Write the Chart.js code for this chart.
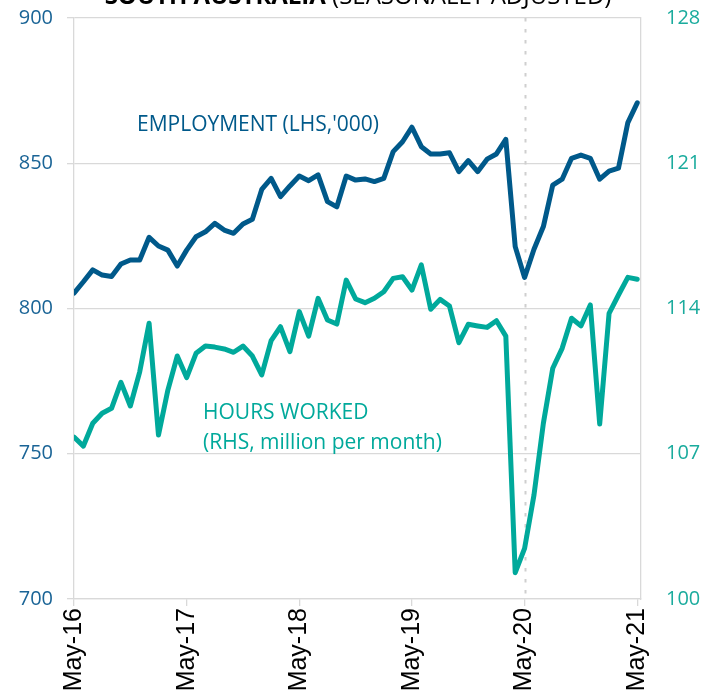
<!DOCTYPE html>
<html>
<head>
<meta charset="utf-8">
<script src="https://cdn.jsdelivr.net/npm/chart.js@4.4.1/dist/chart.umd.min.js"></script>
<style>
  html, body { margin: 0; padding: 0; background: #ffffff; }
  #wrap { position: relative; width: 716px; height: 695px; }
</style>
</head>
<body>
<div id="wrap"><canvas id="c" width="716" height="695"></canvas></div>
<script>
// ---- Data (monthly, May-16 .. May-21; x = month index from May-16) ----
const employment = [
  805.3, 809.2, 813.3, 811.5, 811.0, 815.3, 816.7, 816.7, 824.5, 821.5,
  820.1, 814.6, 820.1, 824.7, 826.4, 829.3, 827.0, 825.9, 829.1, 830.7,
  841.0, 844.8, 838.5, 842.2, 845.6, 844.0, 846.0, 836.8, 835.0, 845.6,
  844.2, 844.6, 843.7, 844.8, 854.0, 857.4, 862.4, 855.7, 853.2, 853.2,
  853.6, 847.1, 850.9, 847.1, 851.4, 853.2, 858.2, 821.3, 810.7, 820.4,
  828.2, 842.5, 844.5, 851.7, 852.8, 851.7, 844.5, 847.3, 848.3, 864.0,
  870.8
];
const hoursWorked = [
  107.80, 107.37, 108.47, 108.95, 109.19, 110.44, 109.30, 110.95, 113.29, 107.90,
  110.07, 111.71, 110.67, 111.84, 112.19, 112.14, 112.05, 111.89, 112.19, 111.71,
  110.80, 112.45, 113.12, 111.92, 113.85, 112.67, 114.49, 113.45, 113.25, 115.37,
  114.46, 114.28, 114.49, 114.81, 115.45, 115.53, 114.89, 116.10, 113.96, 114.44,
  114.12, 112.35, 113.24, 113.16, 113.09, 113.41, 112.67, 101.27, 102.44, 105.01,
  108.47, 111.12, 112.08, 113.53, 113.16, 114.17, 108.43, 113.77, 114.65, 115.50,
  115.41
];
const xTickPositions = [0, 12, 24, 36, 48, 60];
const xTickLabels = ["May-16", "May-17", "May-18", "May-19", "May-20", "May-21"];
const leftTicks = [700, 750, 800, 850, 900];
const rightTicks = [100, 107, 114, 121, 128];
const markerMonth = 48; // May-20

const COL_EMP = '#00598a';
const COL_HRS = '#00a99b';
const COL_LTICK = '#1a6496';
const COL_RTICK = '#1aab9d';
const GRID = '#d9d9d9';

const empData = employment.map((v, i) => ({ x: i, y: v }));
const hrsData = hoursWorked.map((v, i) => ({ x: i, y: v }));

function noPad(scale) {
  scale.paddingTop = 0; scale.paddingBottom = 0;
  scale.paddingLeft = 0; scale.paddingRight = 0;
}

const markerPlugin = {
  id: 'marker',
  beforeDatasetsDraw(chart) {
    const { ctx, chartArea, scales } = chart;
    const x = Math.round(scales.x.getPixelForValue(markerMonth)) + 0.5;
    ctx.save();
    ctx.strokeStyle = '#cfcfcf';
    ctx.lineWidth = 2;
    ctx.setLineDash([3.5, 7.5]);
    ctx.beginPath();
    ctx.moveTo(x, chartArea.top);
    ctx.lineTo(x, chartArea.bottom);
    ctx.stroke();
    ctx.restore();
  }
};

const textPlugin = {
  id: 'texts',
  afterDraw(chart) {
    const { ctx } = chart;
    ctx.save();
    ctx.textBaseline = 'alphabetic';
    ctx.textAlign = 'left';
    // Title (partly cut at top of picture)
    const t1 = 'SOUTH AUSTRALIA ';
    const t2 = '(SEASONALLY ADJUSTED)';
    ctx.font = 'bold 24px "Open Sans"';
    const w1 = ctx.measureText(t1).width;
    ctx.font = '24px "Open Sans"';
    const w2 = ctx.measureText(t2).width;
    let sx = 358 - (w1 + w2) / 2;
    ctx.fillStyle = '#000000';
    ctx.font = 'bold 24px "Open Sans"';
    ctx.fillText(t1, sx, 4);
    ctx.font = '24px "Open Sans"';
    ctx.fillText(t2, sx + w1, 4);
    // Series annotations
    ctx.font = '21px "Open Sans"';
    ctx.fillStyle = COL_EMP;
    ctx.fillText("EMPLOYMENT (LHS,'000)", 137, 131);
    ctx.fillStyle = COL_HRS;
    ctx.fillText('HOURS WORKED', 203, 419);
    ctx.fillText('(RHS, million per month)', 203, 449);
    ctx.restore();
  }
};

new Chart(document.getElementById('c'), {
  type: 'line',
  data: {
    datasets: [
      {
        label: 'Hours worked',
        data: hrsData,
        yAxisID: 'y2',
        borderColor: COL_HRS,
        borderWidth: 5,
        pointRadius: 0,
        tension: 0,
        borderJoinStyle: 'round',
        borderCapStyle: 'round',
        fill: false
      },
      {
        label: 'Employment',
        data: empData,
        yAxisID: 'y',
        borderColor: COL_EMP,
        borderWidth: 5,
        pointRadius: 0,
        tension: 0,
        borderJoinStyle: 'round',
        borderCapStyle: 'round',
        fill: false
      }
    ]
  },
  options: {
    responsive: false,
    animation: false,
    events: [],
    layout: { padding: { top: 18, left: 0, right: 0, bottom: 0 } },
    plugins: { legend: { display: false }, tooltip: { enabled: false }, title: { display: false } },
    scales: {
      x: {
        type: 'linear',
        min: 0,
        max: 60.4,
        afterBuildTicks(scale) { scale.ticks = xTickPositions.map(v => ({ value: v })); },
        afterFit(scale) { scale.height = 96; noPad(scale); },
        ticks: {
          autoSkip: false,
          minRotation: 90,
          maxRotation: 90,
          padding: 2,
          color: '#000000',
          font: { family: '"Liberation Sans", Arial, sans-serif', size: 25 },
          callback(v) { const k = xTickPositions.indexOf(v); return k >= 0 ? xTickLabels[k] : ''; }
        },
        grid: { drawOnChartArea: false, color: GRID, tickLength: 7, lineWidth: 1.3 },
        border: { display: true, color: GRID, width: 1.3 }
      },
      y: {
        position: 'left',
        min: 700,
        max: 900,
        afterBuildTicks(scale) { scale.ticks = leftTicks.map(v => ({ value: v })); },
        afterFit(scale) { scale.width = 74; noPad(scale); },
        ticks: {
          color: COL_LTICK,
          padding: 14,
          font: { family: '"Open Sans", sans-serif', size: 20 }
        },
        grid: { color: GRID, lineWidth: 1.3, tickLength: 7 },
        border: { display: true, color: GRID, width: 1.3 }
      },
      y2: {
        position: 'right',
        min: 100,
        max: 128,
        afterBuildTicks(scale) { scale.ticks = rightTicks.map(v => ({ value: v })); },
        afterFit(scale) { scale.width = 75; noPad(scale); },
        ticks: {
          color: COL_RTICK,
          padding: 25,
          font: { family: '"Open Sans", sans-serif', size: 20 }
        },
        grid: { display: false, drawOnChartArea: false, drawTicks: false },
        border: { display: true, color: GRID, width: 1.3 }
      }
    }
  },
  plugins: [markerPlugin, textPlugin]
});
</script>
</body>
</html>
